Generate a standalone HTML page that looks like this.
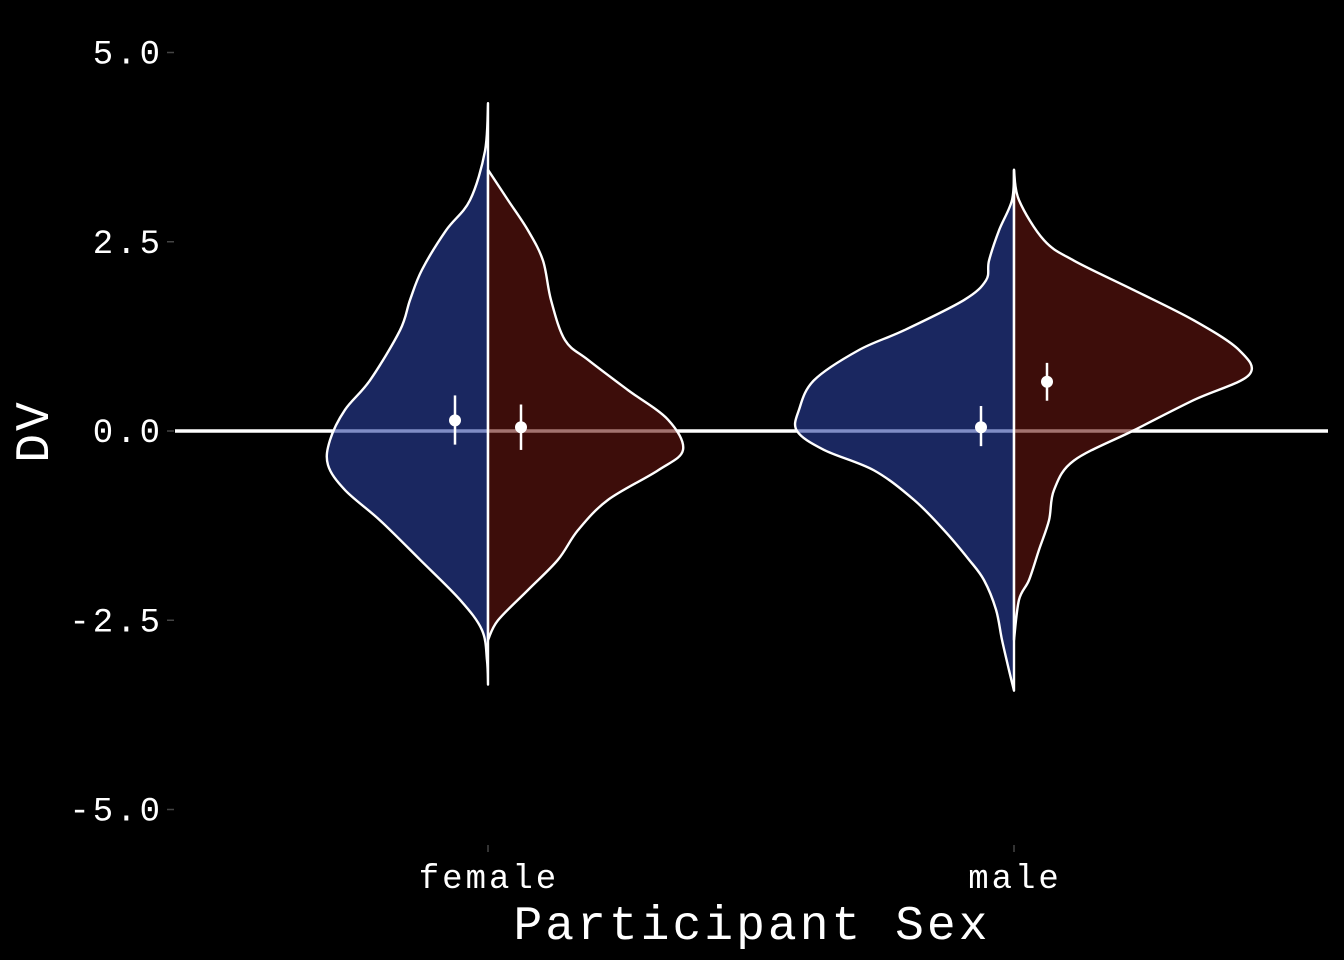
<!DOCTYPE html>
<html><head><meta charset="utf-8"><style>
html,body{margin:0;padding:0;background:#000;}
svg{display:block;}
text{font-family:"Liberation Mono","DejaVu Sans Mono",monospace;fill:#fff;}
</style></head><body>
<svg id="chart" width="1344" height="960"></svg>
<script>
const yTicks=[5.0,2.5,0.0,-2.5,-5.0];
const yTickLabels=["5.0","2.5","0.0","-2.5","-5.0"];
const categories=["female","male"];
// violin outlines: y values (DV) and half-widths (density units)
const femaleBlueY=[4.33,3.7,3.05,2.65,2.13,1.73,1.33,0.67,0.28,-0.12,-0.45,-0.78,-1.18,-1.7,-2.23,-2.63,-3.03,-3.35];
const femaleBlueW=[0,3,18,42,66,78,88,118,143,158,160,143,108,68,28,6,1,0];
const femaleRedY=[3.45,3.05,2.65,2.25,1.73,1.2,0.94,0.54,0.15,-0.25,-0.52,-0.91,-1.31,-1.7,-2.1,-2.5,-2.76];
const femaleRedW=[0,20,40,55,63,77,100,140,180,195,170,120,90,70,40,10,0];
const maleBlueY=[3.45,3.05,2.65,2.25,1.99,1.73,1.33,1.07,0.67,0.28,0.0,-0.25,-0.52,-0.91,-1.31,-1.7,-1.97,-2.36,-2.76,-3.16,-3.43];
const maleBlueW=[0,2,15,25,28,50,110,155,200,215,217,190,140,100,70,45,30,18,12,5,0];
const maleRedY=[3.45,3.05,2.52,2.25,1.86,1.46,1.07,0.74,0.41,0.01,-0.39,-0.78,-1.18,-1.57,-1.97,-2.23,-2.76];
const maleRedW=[0,5,30,60,120,180,225,235,180,120,60,40,35,25,15,5,0];
// means and CIs
const meanVals=[0.14,0.05,0.05,0.65];
const ciLow=[-0.18,-0.25,-0.2,0.4];
const ciHigh=[0.47,0.35,0.33,0.9];
const pointCat=[0,0,1,1];
const pointSide=[-1,1,-1,1];

const svg=document.getElementById('chart');
const NS='http://www.w3.org/2000/svg';
const yS=v=>431-v*75.7;
const xS=i=>488+i*526;
function el(t,a,p){const e=document.createElementNS(NS,t);for(const k in a)e.setAttribute(k,a[k]);(p||svg).appendChild(e);return e;}

yTicks.forEach((v,i)=>{
  const t=el('line',{x1:167,x2:174,y1:yS(v),y2:yS(v),stroke:'#444','stroke-width':1.5});
  
  
  const l=el('text',{x:163,y:yS(v)+11,'text-anchor':'end','font-size':34,'letter-spacing':3});
  l.textContent=yTickLabels[i];
  
  
});
categories.forEach((c,i)=>{
  const t=el('line',{x1:xS(i),x2:xS(i),y1:845,y2:852,stroke:'#444','stroke-width':1.5});
  
  
  const l=el('text',{x:xS(i)+1,y:888,'text-anchor':'middle','font-size':34,'letter-spacing':3});
  l.textContent=c;
  
  
});
const zl=el('line',{x1:175,x2:1328,y1:yS(0),y2:yS(0),stroke:'#fff','stroke-width':3.5});



function smoothPath(pts){
  let d='M'+pts[0][0]+','+pts[0][1];
  for(let i=0;i<pts.length-1;i++){
    const p0=pts[Math.max(0,i-1)],p1=pts[i],p2=pts[i+1],p3=pts[Math.min(pts.length-1,i+2)];
    const c1=[p1[0]+(p2[0]-p0[0])/6,p1[1]+(p2[1]-p0[1])/6];
    const c2=[p2[0]-(p3[0]-p1[0])/6,p2[1]-(p3[1]-p1[1])/6];
    d+=' C'+c1[0]+','+c1[1]+' '+c2[0]+','+c2[1]+' '+p2[0]+','+p2[1];
  }
  return d;
}
function violin(Y,W,ci,side,fill,name){
  const pts=Y.map((y,k)=>[xS(ci)+side*W[k],yS(y)]);
  const d=smoothPath(pts)+' L'+xS(ci)+','+yS(Y[Y.length-1])+' L'+xS(ci)+','+yS(Y[0])+' Z';
  const p=el('path',{d:d,fill:fill,'fill-opacity':0.6,stroke:'#fff','stroke-width':2.4,'stroke-linejoin':'round'});
  
  
}
violin(femaleBlueY,femaleBlueW,0,-1,'rgb(43,65,160)','violin-female-blue');
violin(femaleRedY,femaleRedW,0,1,'rgb(102,22,17)','violin-female-red');
violin(maleBlueY,maleBlueW,1,-1,'rgb(43,65,160)','violin-male-blue');
violin(maleRedY,maleRedW,1,1,'rgb(102,22,17)','violin-male-red');

meanVals.forEach((m,i)=>{
  const x=xS(pointCat[i])+pointSide[i]*33;
  const e=el('line',{x1:x,x2:x,y1:yS(ciLow[i]),y2:yS(ciHigh[i]),stroke:'#fff','stroke-width':2.5});
  
  
  const c=el('circle',{cx:x,cy:yS(m),r:6,fill:'#fff'});
  
  
});
const xt=el('text',{x:752,y:939,'text-anchor':'middle','font-size':48,'letter-spacing':3});
xt.textContent='Participant Sex';


const yt=el('text',{x:0,y:0,'text-anchor':'middle','font-size':48,'letter-spacing':3,transform:'translate(48,431) rotate(-90)'});
yt.textContent='DV';


</script>
</body></html>
